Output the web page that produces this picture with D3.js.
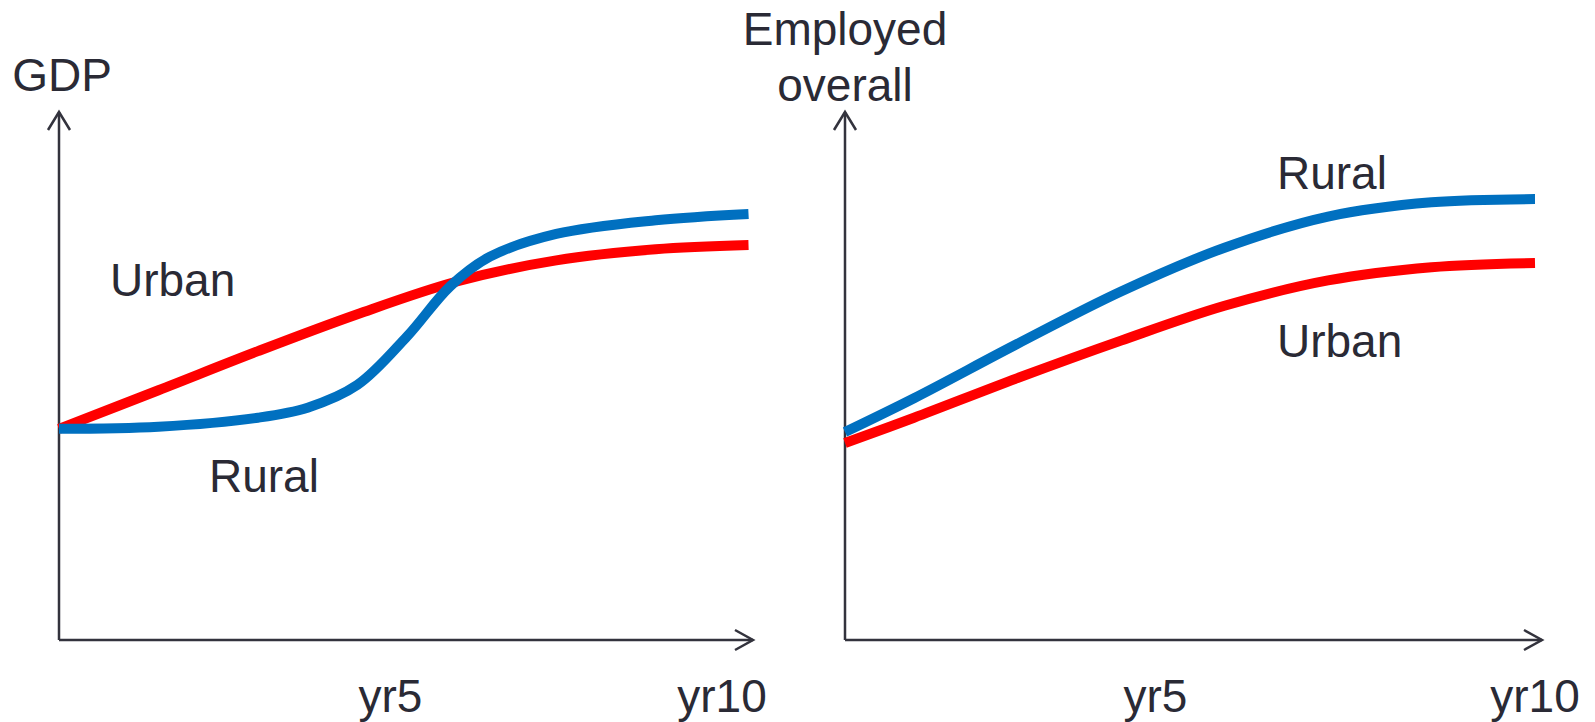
<!DOCTYPE html>
<html>
<head>
<meta charset="utf-8">
<script src="https://cdn.jsdelivr.net/npm/d3@7"></script>
<style>
  body { margin: 0; background: #fff; }
  text { font-family: "Liberation Sans", Arial, sans-serif; fill: #2a2a35; }
</style>
</head>
<body>
<div id="chart"></div>
<script>
// left panel: GDP
const gdpYears = [0, 1.5, 3, 3.75, 4.5, 5.25, 5.9, 6.5, 7.5, 9, 10.4];
const gdpRural = [40, 40.4, 42.1, 44.0, 48.3, 57.5, 67.0, 72.6, 76.9, 79.5, 80.7];
const gdpUrbanYears = [0, 1.5, 3, 4.5, 6, 7.5, 9, 10.4];
const gdpUrban = [40, 47.3, 54.7, 61.7, 67.9, 71.9, 74.0, 74.8];

// right panel: employed overall
const empYears = [0, 1, 2.5, 4, 5.5, 7, 8.5, 10];
const empRural = [39.4, 45.8, 56.1, 66.0, 74.3, 80.2, 82.9, 83.5];
const empUrban = [37.3, 42.1, 49.6, 56.7, 63.3, 68.1, 70.6, 71.4];

const leftTicks = [5, 10];
const rightTicks = [4.5, 10];
const tickLabels = ["yr5", "yr10"];

const width = 1595;
const height = 722;
const axisColor = "#33333d";
const red = "#ff0000";
const blue = "#0070c0";

let svg = d3.select("#chart")
    .append("svg")
    .attr("width", width)
    .attr("height", height);

let y = d3.scaleLinear().domain([0, 100]).range([640, 112]);

function arrowAxes(x0, xEnd) {
    const g = svg.append("g")
        .attr("fill", "none")
        .attr("stroke", axisColor)
        .attr("stroke-width", 2.5);
    // y axis
    g.append("path").attr("d", `M${x0},${y(0)}V${y(100)}`);
    g.append("path").attr("d", `M${x0 - 11},${y(100) + 18}L${x0},${y(100)}L${x0 + 11},${y(100) + 18}`);
    // x axis
    g.append("path").attr("d", `M${x0},${y(0)}H${xEnd}`);
    g.append("path").attr("d", `M${xEnd - 18},${y(0) - 10}L${xEnd},${y(0)}L${xEnd - 18},${y(0) + 10}`);
}

function series(x, years, values, color) {
    const line = d3.line()
        .x((d, i) => x(years[i]))
        .y(d => y(d))
        .curve(d3.curveCatmullRom.alpha(0.5));
    svg.append("path")
        .datum(values)
        .attr("fill", "none")
        .attr("stroke", color)
        .attr("stroke-width", 10)
        .attr("d", line);
}

function label(px, py, txt, anchor) {
    svg.append("text")
        .attr("x", px)
        .attr("y", py)
        .attr("text-anchor", anchor || "start")
        .style("font-size", "46px")
        .text(txt);
}

// ---- left
let xL = d3.scaleLinear().domain([0, 10]).range([59, 722]);
arrowAxes(xL(0), 753);
series(xL, gdpUrbanYears, gdpUrban, red);
series(xL, gdpYears, gdpRural, blue);
label(xL(0) + 3, 91, "GDP", "middle");
label(110, 296, "Urban");
label(209, 492, "Rural");
leftTicks.forEach((t, i) => label(xL(t), 712, tickLabels[i], "middle"));

// ---- right
let xR = d3.scaleLinear().domain([0, 10]).range([845, 1535]);
arrowAxes(xR(0), 1542);
series(xR, empYears, empUrban, red);
series(xR, empYears, empRural, blue);
label(xR(0), 45, "Employed", "middle");
label(xR(0), 101, "overall", "middle");
label(1277, 189, "Rural");
label(1277, 357, "Urban");
rightTicks.forEach((t, i) => label(xR(t), 712, tickLabels[i], "middle"));
</script>
</body>
</html>
